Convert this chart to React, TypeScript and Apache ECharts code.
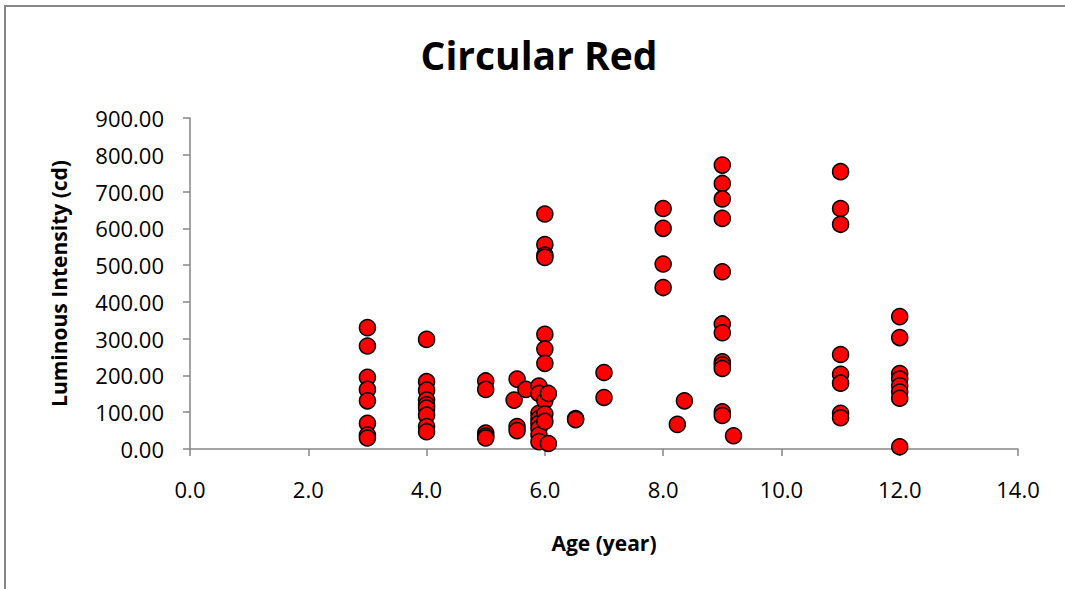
import React, { useEffect, useRef } from "react";
import * as echarts from "echarts";

const chartTitle = "Circular Red";
const xAxisTitle = "Age (year)";
const yAxisTitle = "Luminous Intensity (cd)";

// Age (x) of each group of readings
const ageGroups = [3, 4, 5, 5.48, 5.53, 5.68, 5.9, 6.0, 6.06, 6.52, 7.0, 8.0, 8.24, 8.36, 9.0, 9.19, 11, 12];
// Luminous intensity readings for each age group (same order)
const intensityGroups = [
  [330, 280, 195, 162, 131, 70, 38, 30],
  [298, 183, 160, 133, 120, 111, 92, 61, 47],
  [185, 162, 43, 35, 30],
  [133],
  [190, 61, 50],
  [162],
  [171, 151, 97, 83, 70, 56, 38, 20],
  [639, 556, 527, 521, 312, 272, 233, 131, 95, 75],
  [151, 15],
  [83, 80],
  [208, 140],
  [654, 600, 503, 439],
  [67],
  [131],
  [772, 722, 680, 627, 482, 340, 316, 237, 228, 219, 101, 91],
  [36],
  [754, 654, 611, 257, 203, 179, 97, 85],
  [360, 303, 205, 190, 172, 155, 138, 6],
];

const xMin = 0;
const xMax = 14;
const xStep = 2;
const yMin = 0;
const yMax = 900;
const yStep = 100;

export default function App() {
  const ref = useRef<HTMLDivElement>(null);

  useEffect(() => {
    if (!ref.current) return;
    const chart = echarts.init(ref.current, null, { renderer: "svg" });
    const points: number[][] = [];
    ageGroups.forEach((age, i) => {
      intensityGroups[i].forEach((v) => points.push([age, v]));
    });
    const axisColor = "#868686";
    const font = "'Open Sans', Lato, sans-serif";
    chart.setOption({
      animation: false,
      backgroundColor: "transparent",
      textStyle: { fontFamily: font },
      title: {
        text: chartTitle,
        left: 534,
        textAlign: "center",
        top: 30,
        textStyle: { fontFamily: font, fontSize: 39, fontWeight: "bold", color: "#000" },
      },
      graphic: [
        {
          type: "line",
          shape: { x1: 4, y1: 6, x2: 1066, y2: 6 },
          style: { stroke: axisColor, lineWidth: 2 },
          silent: true,
        },
        {
          type: "line",
          shape: { x1: 5, y1: 5, x2: 5, y2: 590 },
          style: { stroke: axisColor, lineWidth: 2 },
          silent: true,
        },
      ],
      grid: { left: 190, right: 47, top: 118, bottom: 140, containLabel: false },
      xAxis: {
        type: "value",
        min: xMin,
        max: xMax,
        interval: xStep,
        name: xAxisTitle,
        nameLocation: "middle",
        nameGap: 83,
        nameTextStyle: { fontFamily: font, fontSize: 21, fontWeight: "bold", color: "#000" },
        axisLine: { show: true, lineStyle: { color: axisColor, width: 1.5 } },
        axisTick: { show: true, length: 7, inside: false, lineStyle: { color: axisColor, width: 1.5 } },
        splitLine: { show: false },
        axisLabel: {
          margin: 29,
          fontFamily: font,
          fontSize: 22,
          color: "#000",
          formatter: (v: number) => v.toFixed(1),
        },
      },
      yAxis: {
        type: "value",
        min: yMin,
        max: yMax,
        interval: yStep,
        name: yAxisTitle,
        nameLocation: "middle",
        nameGap: 121,
        nameRotate: 90,
        nameTextStyle: { fontFamily: font, fontSize: 21, fontWeight: "bold", color: "#000" },
        axisLine: { show: true, lineStyle: { color: axisColor, width: 1.5 } },
        axisTick: { show: true, length: 7, inside: false, lineStyle: { color: axisColor, width: 1.5 } },
        splitLine: { show: false },
        axisLabel: {
          margin: 26,
          fontFamily: font,
          fontSize: 22,
          color: "#000",
          formatter: (v: number) => v.toFixed(2),
        },
      },
      series: [
        {
          type: "scatter",
          data: points,
          symbol: "circle",
          symbolSize: 16,
          itemStyle: { color: "#ff0000", opacity: 1, borderColor: "#000000", borderWidth: 1.5 },
        },
      ],
    });
    return () => chart.dispose();
  }, []);

  return (
    <div style={{ position: "fixed", left: 0, top: 0, width: 1065, height: 589, background: "#fff", overflow: "hidden" }}>
      <div
        ref={ref}
        style={{ position: "absolute", left: 0, top: 0, width: 1065, height: 589 }}
      />
    </div>
  );
}
